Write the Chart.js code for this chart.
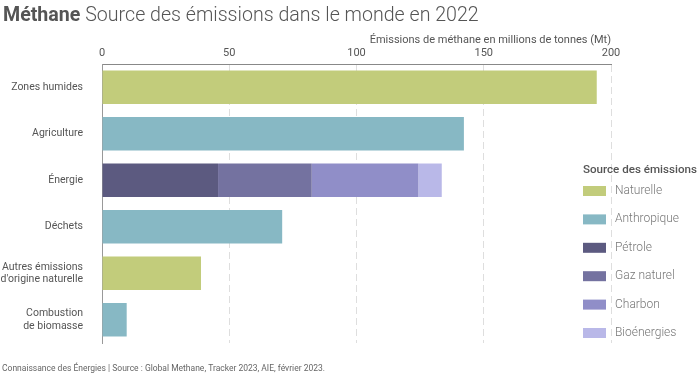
<!DOCTYPE html>
<html>
<head>
<meta charset="utf-8">
<script src="https://cdn.jsdelivr.net/npm/chart.js@4/dist/chart.umd.min.js"></script>
<style>
  html, body { margin: 0; padding: 0; background: #fff; }
  #wrap { width: 700px; height: 374px; }
</style>
</head>
<body>
<div id="wrap"><canvas id="methaneChart" width="700" height="374"></canvas></div>
<script>
// Categories and values (Mt)
var categories = ['Zones humides', 'Agriculture', 'Énergie', 'Déchets', ['Autres émissions', "d'origine naturelle"], ['Combustion', 'de biomasse']];
var naturelle   = [194.4, null, null, null, 38.9, null];
var anthropique = [null, 142.2, null, 70.8, null, 9.7];
var petrole     = [null, null, 45.6, null, null, null];
var gazNaturel  = [null, null, 36.8, null, null, null];
var charbon     = [null, null, 41.9, null, null, null];
var bioenergies = [null, null, 9.2, null, null, null];
var xTicks = [0, 50, 100, 150, 200];

var seriesNames = ['Naturelle', 'Anthropique', 'Pétrole', 'Gaz naturel', 'Charbon', 'Bioénergies'];
var seriesColors = ['#c2cc7b', '#87b8c4', '#5c5a80', '#7472a0', '#908ec8', '#b9b8e8'];
var seriesData = [naturelle, anthropique, petrole, gazNaturel, charbon, bioenergies];

var fontFamily = 'Roboto, "Noto Sans", sans-serif';

var datasets = seriesNames.map(function (name, i) {
  return {
    label: name,
    data: seriesData[i],
    backgroundColor: seriesColors[i],
    borderWidth: 0,
    barPercentage: 0.72,
    categoryPercentage: 1
  };
});

// Title, footer and legend drawn on the canvas
var decorations = {
  id: 'decorations',
  afterDraw: function (chart) {
    var ctx = chart.ctx;
    ctx.save();
    ctx.textBaseline = 'alphabetic';
    ctx.textAlign = 'left';
    ctx.fillStyle = '#555';
    ctx.font = 'bold 19.6px ' + fontFamily;
    ctx.fillText('Méthane', 3, 21);
    var w = ctx.measureText('Méthane ').width;
    ctx.font = '300 19.6px ' + fontFamily;
    ctx.fillText('Source des émissions dans le monde en 2022', 3 + w, 21);

    ctx.font = '8.5px ' + fontFamily;
    ctx.fillStyle = '#666';
    ctx.fillText('Connaissance des Énergies | Source : Global Methane, Tracker 2023, AIE, février 2023.', 2, 371);

    // legend
    ctx.textBaseline = 'middle';
    ctx.font = '500 11.6px ' + fontFamily;
    ctx.fillStyle = '#555';
    ctx.fillText('Source des émissions', 583, 170);
    ctx.font = '300 12px ' + fontFamily;
    chart.data.datasets.forEach(function (ds, i) {
      var y = 191 + i * 28.4;
      ctx.fillStyle = ds.backgroundColor;
      ctx.fillRect(583, y - 5, 23, 10);
      ctx.fillStyle = '#777';
      ctx.fillText(ds.label, 615, y);
    });
    ctx.restore();
  }
};

var chartConfig = {
  type: 'bar',
  data: { labels: categories, datasets: datasets },
  options: {
    indexAxis: 'y',
    responsive: false,
    animation: false,
    layout: { padding: { top: 28, right: 89, bottom: 31, left: 0 } },
    plugins: {
      legend: { display: false },
      tooltip: { enabled: false }
    },
    scales: {
      x: {
        position: 'top',
        stacked: true,
        min: 0,
        max: 200,
        afterBuildTicks: function (scale) {
          scale.ticks = xTicks.map(function (v) { return { value: v }; });
        },
        afterFit: function (scale) { scale.height = 36; },
        grid: {
          color: function (ctx) { return ctx.tick && ctx.tick.value === 0 ? 'rgba(0,0,0,0)' : '#dedede'; },
          lineWidth: 1,
          drawTicks: false
        },
        border: { display: true, color: '#888', width: 1, dash: [7, 4] },
        ticks: { color: '#555', font: { family: fontFamily, size: 11 }, padding: 4 },
        title: {
          display: true,
          text: 'Émissions de méthane en millions de tonnes (Mt)',
          align: 'end',
          color: '#555',
          font: { family: fontFamily, size: 11 },
          padding: { top: 6, bottom: 0 }
        }
      },
      y: {
        stacked: true,
        afterFit: function (scale) { scale.width = 102; },
        grid: { display: false, drawTicks: false },
        border: { display: true, color: '#999', width: 1 },
        ticks: { color: '#555', font: { family: fontFamily, size: 10.5 }, padding: 19 }
      }
    }
  },
  plugins: [decorations]
};

var ctx = document.getElementById('methaneChart').getContext('2d');
var barChart = new Chart(ctx, chartConfig);
</script>
</body>
</html>
